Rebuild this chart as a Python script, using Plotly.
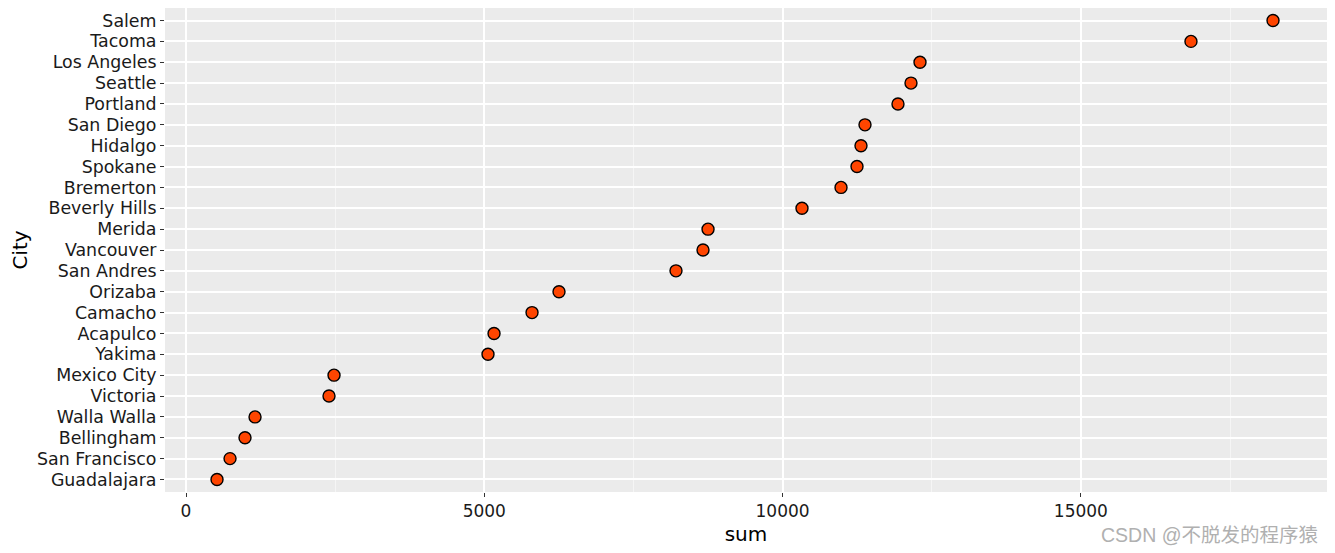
import plotly.graph_objects as go

cities = ["Salem", "Tacoma", "Los Angeles", "Seattle", "Portland", "San Diego", "Hidalgo",
          "Spokane", "Bremerton", "Beverly Hills", "Merida", "Vancouver", "San Andres",
          "Orizaba", "Camacho", "Acapulco", "Yakima", "Mexico City", "Victoria",
          "Walla Walla", "Bellingham", "San Francisco", "Guadalajara"]
sums = [18220, 16845, 12303, 12152, 11934, 11381, 11314, 11247, 10979, 10325, 8750, 8666,
        8213, 6252, 5800, 5163, 5062, 2481, 2397, 1157, 989, 738, 520]
x_ticks = [0, 5000, 10000, 15000]

order = list(reversed(cities))

fig = go.Figure()
fig.add_trace(go.Scatter(
    x=sums, y=cities, mode="markers",
    marker=dict(size=12, color="#FF4500", line=dict(color="black", width=1.4)),
    showlegend=False, hoverinfo="x+y"))

grid_major = "white"
fig.update_layout(
    width=1327, height=545,
    margin=dict(l=157, r=8, t=0, b=61),
    paper_bgcolor="white", plot_bgcolor="#EBEBEB",
    font=dict(family="DejaVu Sans", color="black", size=17),
    xaxis=dict(
        range=[-352, 19125], tickvals=x_ticks, ticktext=[str(v) for v in x_ticks],
        showgrid=True, gridcolor=grid_major, gridwidth=1.5,
        minor=dict(tickvals=[2500, 7500, 12500, 17500], showgrid=True, gridcolor="#F5F5F5", gridwidth=0.8),
        ticks="outside", ticklen=4, tickcolor="#333333", tickwidth=1.2,
        tickfont=dict(size=17, color="#1a1a1a"),
        title=dict(text="sum", font=dict(size=20), standoff=6),
        zeroline=False, showline=False,
    ),
    yaxis=dict(
        categoryorder="array", categoryarray=order,
        tickmode="array", tickvals=cities, ticktext=cities,
        range=[-0.6, len(cities) - 0.4],
        showgrid=True, gridcolor=grid_major, gridwidth=1.5,
        ticks="outside", ticklen=4, tickcolor="#333333", tickwidth=1.2,
        tickfont=dict(size=17.4, color="#1a1a1a"),
        title=dict(text="City", font=dict(size=20), standoff=6),
        zeroline=False, showline=False,
    ),
)
fig.add_annotation(text="CSDN @不脱发的程序猿", xref="paper", yref="paper",
                   x=0.994, y=-0.089, xanchor="right", yanchor="middle", showarrow=False,
                   font=dict(family="Liberation Sans, Noto Sans CJK SC", size=19.5, color="#B0B0B0"))
fig.write_html("out.html")
